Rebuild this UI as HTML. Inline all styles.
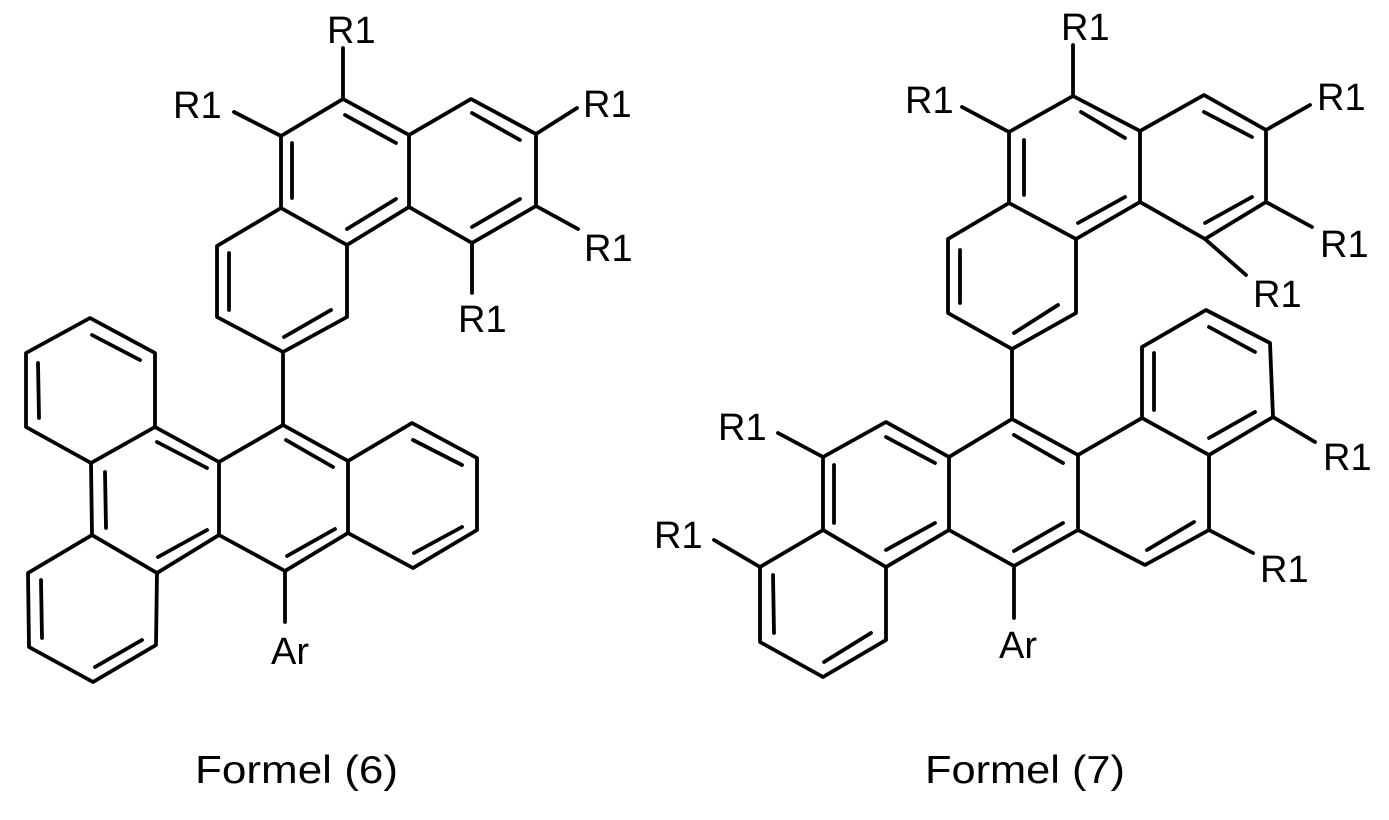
<!DOCTYPE html>
<html><head><meta charset="utf-8"><style>
html,body{margin:0;padding:0;background:#fff;}
svg{display:block;}
text{font-family:"Liberation Sans",Arial,sans-serif;fill:#000;}
</style></head><body>
<svg width="1389" height="820" viewBox="0 0 1389 820" xmlns="http://www.w3.org/2000/svg">
<g stroke="#000" stroke-width="3.8" fill="none" stroke-linecap="round" stroke-linejoin="round">
<!-- Formula 6 top phenanthrene -->
<polyline points="281,136 343,99 409,135 409,207 347,245 281,208 281,136"/>
<polyline points="409,135 471,99 536,134 536,206 472,243 409,207"/>
<polyline points="281,208 217,246 217,317 283,352 347,317 347,245"/>
<line x1="343" y1="99" x2="343" y2="48"/>
<line x1="281" y1="136" x2="234" y2="112"/>
<line x1="536" y1="134" x2="577" y2="108"/>
<line x1="536" y1="206" x2="578" y2="229"/>
<line x1="472" y1="243" x2="472" y2="293"/>
<line x1="345" y1="115" x2="396" y2="143"/>
<line x1="292" y1="143" x2="292" y2="198"/>
<line x1="347" y1="229" x2="396" y2="199"/>
<line x1="472" y1="113" x2="520" y2="140"/>
<line x1="472" y1="227" x2="520" y2="199"/>
<line x1="229" y1="253" x2="229" y2="310"/>
<line x1="284" y1="337" x2="331" y2="310"/>
<!-- Formula 6 lower -->
<line x1="283" y1="352" x2="283" y2="425"/>
<polyline points="283,425 219,462 219,535 285,571 348,533 348,461 283,425"/>
<polyline points="348,461 412,423 477,458 477,530 413,568 348,533"/>
<polyline points="219,462 155,427 91,463 92,535 157,573 219,535"/>
<polyline points="155,427 155,353 90,318 26,353 26,427 91,463"/>
<polyline points="92,535 28,573 29,647 93,682 156,645 157,573"/>
<line x1="285" y1="571" x2="285" y2="622"/>
<line x1="92" y1="335" x2="140" y2="360"/>
<line x1="38" y1="363" x2="39" y2="418"/>
<line x1="157" y1="442" x2="207" y2="468"/>
<line x1="105" y1="472" x2="106" y2="528"/>
<line x1="158" y1="557" x2="207" y2="530"/>
<line x1="41" y1="580" x2="42" y2="638"/>
<line x1="95" y1="667" x2="142" y2="640"/>
<line x1="286" y1="440" x2="333" y2="467"/>
<line x1="287" y1="556" x2="335" y2="529"/>
<line x1="413" y1="440" x2="462" y2="465"/>
<line x1="414" y1="553" x2="462" y2="527"/>
<!-- Formula 7 top -->
<polyline points="1009,132 1073,96 1140,131 1140,202 1076,239 1009,203 1009,132"/>
<polyline points="1140,131 1204,95 1266,130 1266,202 1205,239 1140,202"/>
<polyline points="1009,203 948,239 948,313 1012,349 1076,313 1076,239"/>
<line x1="1073" y1="96" x2="1073" y2="45"/>
<line x1="1009" y1="132" x2="962" y2="107"/>
<line x1="1266" y1="130" x2="1310" y2="105"/>
<line x1="1266" y1="202" x2="1312" y2="227"/>
<line x1="1205" y1="239" x2="1246" y2="275"/>
<line x1="1081" y1="112" x2="1125" y2="138"/>
<line x1="1024" y1="140" x2="1024" y2="195"/>
<line x1="1078" y1="223" x2="1125" y2="197"/>
<line x1="1204" y1="112" x2="1252" y2="137"/>
<line x1="1205" y1="223" x2="1252" y2="197"/>
<line x1="960" y1="250" x2="960" y2="303"/>
<line x1="1014" y1="333" x2="1058" y2="305"/>
<!-- Formula 7 lower -->
<line x1="1012" y1="349" x2="1012" y2="419"/>
<polyline points="1012,419 949,457 949,530 1014,566 1078,530 1078,455 1012,419"/>
<polyline points="949,457 886,422 823,457 823,530 886,567 949,530"/>
<polyline points="823,530 760,567 760,642 823,677 886,640 886,567"/>
<polyline points="1078,455 1142,418 1209,455 1209,530 1145,565 1078,530"/>
<polyline points="1142,418 1142,347 1206,310 1270,343 1273,417 1209,455"/>
<line x1="1014" y1="566" x2="1014" y2="618"/>
<line x1="823" y1="457" x2="778" y2="433"/>
<line x1="760" y1="567" x2="714" y2="540"/>
<line x1="1273" y1="417" x2="1315" y2="442"/>
<line x1="1209" y1="530" x2="1253" y2="553"/>
<line x1="886" y1="437" x2="935" y2="463"/>
<line x1="834" y1="465" x2="834" y2="523"/>
<line x1="886" y1="550" x2="935" y2="523"/>
<line x1="773" y1="575" x2="774" y2="633"/>
<line x1="824" y1="662" x2="871" y2="633"/>
<line x1="1014" y1="435" x2="1063" y2="463"/>
<line x1="1014" y1="551" x2="1063" y2="523"/>
<line x1="1154" y1="353" x2="1154" y2="410"/>
<line x1="1209" y1="327" x2="1255" y2="352"/>
<line x1="1209" y1="438" x2="1255" y2="412"/>
<line x1="1147" y1="550" x2="1194" y2="522"/>
</g>
<g font-size="38">
<text x="327" y="43">R1</text>
<text x="173" y="118">R1</text>
<text x="583" y="117">R1</text>
<text x="584" y="261">R1</text>
<text x="458" y="332">R1</text>
<text x="271" y="664">Ar</text>
<text x="1061" y="40">R1</text>
<text x="905" y="113">R1</text>
<text x="1317" y="110">R1</text>
<text x="1320" y="257">R1</text>
<text x="1253" y="307">R1</text>
<text x="718" y="440">R1</text>
<text x="654" y="548">R1</text>
<text x="1323" y="470">R1</text>
<text x="1260" y="582">R1</text>
<text x="999" y="658">Ar</text>
</g>
<g font-size="39">
<text x="195" y="783" textLength="203" lengthAdjust="spacingAndGlyphs">Formel (6)</text>
<text x="925" y="783" textLength="200" lengthAdjust="spacingAndGlyphs">Formel (7)</text>
</g>
</svg>
</body></html>
